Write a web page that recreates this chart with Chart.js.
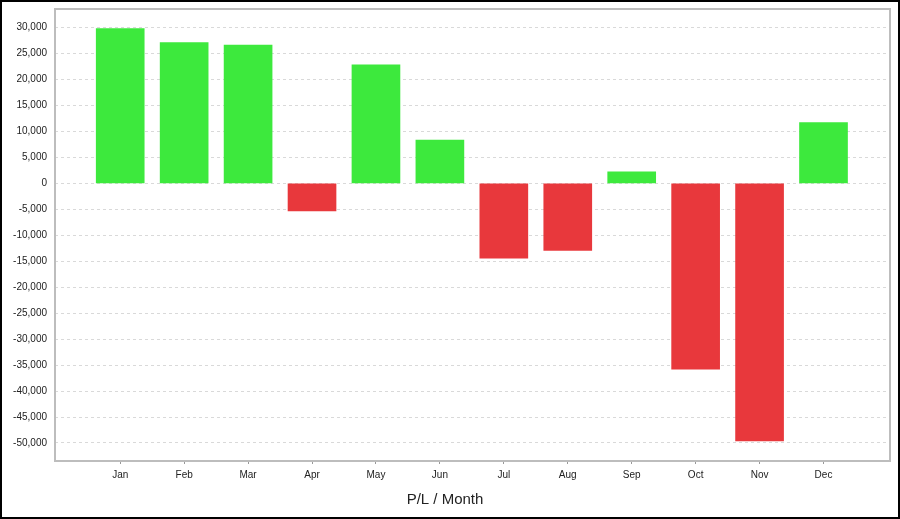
<!DOCTYPE html>
<html lang="en">
<head>
    <meta charset="UTF-8">
    <title>P/L / Month</title>
    <script src="https://cdn.jsdelivr.net/npm/chart.js"></script>
    <style>
        body { margin: 0; background: #fff; }
        #wrap { width: 900px; height: 519px; position: relative; }
    </style>
</head>
<body>
<div id="wrap"><canvas id="plChart"></canvas></div>

<script>
    // monthly profit / loss
    const months = ['Jan', 'Feb', 'Mar', 'Apr', 'May', 'Jun', 'Jul', 'Aug', 'Sep', 'Oct', 'Nov', 'Dec'];
    const pl = [29800, 27100, 26600, -5300, 22800, 8300, -14400, -12900, 2200, -35800, -49600, 11700];
    const yTicks = [30000, 25000, 20000, 15000, 10000, 5000, 0, -5000, -10000, -15000, -20000,
                    -25000, -30000, -35000, -40000, -45000, -50000];

    const GREEN = 'rgb(61, 233, 61)';
    const RED = 'rgb(232, 56, 60)';

    // frame around plot area + outer black border
    const frame = {
        id: 'frame',
        afterDatasetsDraw(chart) {
            const { ctx, chartArea: a } = chart;
            ctx.save();
            ctx.strokeStyle = '#bdbdbd';
            ctx.lineWidth = 2;
            ctx.strokeRect(a.left, a.top, a.right - a.left, a.bottom - a.top);
            ctx.restore();
        },
        afterDraw(chart) {
            const ctx = chart.ctx;
            ctx.save();
            ctx.strokeStyle = '#000';
            ctx.lineWidth = 2;
            ctx.strokeRect(1, 1, chart.width - 2, chart.height - 2);
            ctx.restore();
        }
    };

    const ctx = document.getElementById('plChart').getContext('2d');
    new Chart(ctx, {
        type: 'bar',
        data: {
            datasets: [{
                label: 'P/L',
                data: pl.map((v, i) => ({ x: i, y: v })),
                backgroundColor: pl.map(v => v >= 0 ? GREEN : RED),
                barThickness: 48
            }]
        },
        options: {
            responsive: true,
            maintainAspectRatio: false,
            animation: false,
            layout: { padding: { top: 9, right: 10, left: 0, bottom: 0 } },
            plugins: {
                legend: { display: false },
                tooltip: { enabled: false },
                title: {
                    display: true,
                    position: 'bottom',
                    text: 'P/L / Month',
                    color: '#222',
                    font: { family: 'Liberation Sans, Arial, sans-serif', size: 15, weight: 'normal' },
                    padding: { top: 5, bottom: 10 }
                }
            },
            scales: {
                x: {
                    type: 'linear',
                    offset: false,
                    min: -1.02,
                    max: 12.04,
                    afterBuildTicks: axis => { axis.ticks = months.map((m, i) => ({ value: i })); },
                    afterFit: axis => { axis.height = 25; axis.paddingLeft = 0; axis.paddingRight = 0; },
                    grid: { offset: false, drawOnChartArea: false, tickLength: 3, color: '#999' },
                    border: { display: false },
                    ticks: {
                        autoSkip: false,
                        maxRotation: 0,
                        padding: 5,
                        color: '#222',
                        font: { family: 'Liberation Sans, Arial, sans-serif', size: 10 },
                        callback: v => months[v]
                    }
                },
                y: {
                    min: -53470,
                    max: 33560,
                    afterBuildTicks: axis => { axis.ticks = yTicks.map(v => ({ value: v })); },
                    afterFit: axis => { axis.width = 55; axis.paddingTop = 0; axis.paddingBottom = 0; },
                    grid: { drawTicks: false, color: '#d9d9d9' },
                    border: { display: false, dash: [3, 3] },
                    ticks: {
                        padding: 8,
                        color: '#222',
                        font: { family: 'Liberation Sans, Arial, sans-serif', size: 10 },
                        callback: v => v.toLocaleString('en-US')
                    }
                }
            }
        },
        plugins: [frame]
    });
</script>
</body>
</html>
